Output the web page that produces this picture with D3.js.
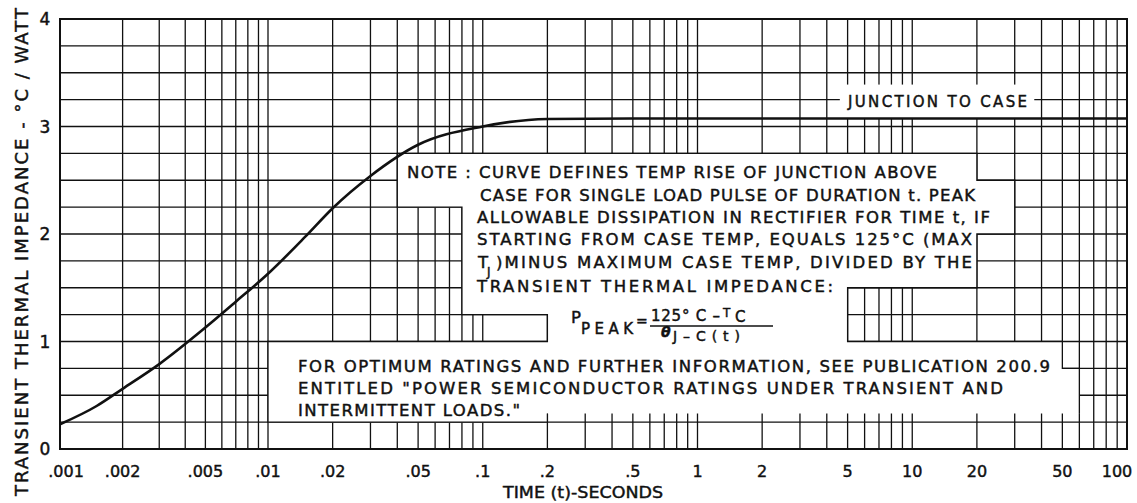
<!DOCTYPE html>
<html>
<head>
<meta charset="utf-8">
<script src="https://cdn.jsdelivr.net/npm/d3@7"></script>
<style>
  body { margin: 0; background: #fff; }
  svg { display: block; font-family: "DejaVu Sans", sans-serif; }
  text { fill: #111; stroke: #111; stroke-width: 0.45px; }
</style>
</head>
<body>
<script>
var width = 1137, height = 503;

// transient thermal impedance curve
var times = [0.001, 0.0015, 0.002, 0.003, 0.005, 0.007, 0.01, 0.015, 0.02, 0.03, 0.05, 0.1, 0.2, 0.5, 100];
var impedance = [0.23, 0.40, 0.56, 0.79, 1.13, 1.37, 1.63, 1.98, 2.24, 2.54, 2.83, 3.0, 3.07, 3.075, 3.075];

var xTicks = [0.001, 0.002, 0.005, 0.01, 0.02, 0.05, 0.1, 0.2, 0.5, 1, 2, 5, 10, 20, 50, 100];
var xTickLabels = [".001", ".002", ".005", ".01", ".02", ".05", ".1", ".2", ".5", "1", "2", "5", "10", "20", "50", "100"];
var yTicks = [0, 1, 2, 3, 4];

var noteLines = [
  "NOTE : CURVE DEFINES TEMP RISE OF JUNCTION ABOVE",
  "CASE FOR SINGLE LOAD PULSE OF DURATION t. PEAK",
  "ALLOWABLE DISSIPATION IN RECTIFIER FOR TIME t, IF",
  "STARTING FROM CASE TEMP, EQUALS  125\u00B0C (MAX",
  ")MINUS MAXIMUM CASE TEMP, DIVIDED BY THE",
  "TRANSIENT THERMAL IMPEDANCE:",
  "FOR OPTIMUM RATINGS AND FURTHER INFORMATION, SEE PUBLICATION 200.9",
  "ENTITLED \"POWER SEMICONDUCTOR RATINGS UNDER TRANSIENT AND",
  "INTERMITTENT LOADS.\""
];

var svg = d3.select("body").append("svg")
    .attr("width", width)
    .attr("height", height);

// the first decade on the sheet is a little narrower than the rest
var x = d3.scaleLog()
    .domain([0.001, 0.01, 100])
    .range([60, 268, 1127]);

var y = d3.scaleLinear()
    .domain([0, 4])
    .range([449, 19]);

// log grid: 1..9 in every decade
var gridX = [];
for (var e = -3; e < 2; e++) {
  for (var m = 1; m < 10; m++) gridX.push(m * Math.pow(10, e));
}
gridX.push(100);
var gridY = d3.range(0, 4.001, 0.25);

var grid = svg.append("g")
    .attr("stroke", "#111")
    .attr("stroke-width", 1.3);

grid.selectAll(".vx")
    .data(gridX)
  .enter().append("line")
    .attr("x1", (d) => x(d)).attr("x2", (d) => x(d))
    .attr("y1", y(0)).attr("y2", y(4));

grid.selectAll(".hy")
    .data(gridY)
  .enter().append("line")
    .attr("x1", x(0.001)).attr("x2", x(100))
    .attr("y1", (d) => y(d)).attr("y2", (d) => y(d));

// white panel behind the note, stepped along the grid (in data units)
var notePanel = [[0.2, 0.33], [0.2, 0.25], [0.01, 0.25], [0.01, 1], [0.2, 1], [0.2, 1.25],
                 [0.08, 1.25], [0.08, 2.25], [0.04, 2.25], [0.04, 2.75], [20, 2.75], [20, 2.5],
                 [30, 2.5], [30, 2], [20, 2], [20, 1.5], [5, 1.5], [5, 1], [50, 1], [50, 0.75],
                 [60, 0.75], [60, 0.33]];

var pt = (d) => [x(d[0]), y(d[1])];

svg.append("path")
    .attr("d", "M" + notePanel.map(pt).join("L") + "Z")
    .attr("fill", "#fff");

// outline, leaving the lower edge open like the sheet
svg.append("path")
    .attr("d", "M" + notePanel.map(pt).join("L"))
    .attr("fill", "none")
    .attr("stroke", "#111")
    .attr("stroke-width", 1.3);

// blank patch for the curve label
svg.append("rect")
    .attr("x", x(4.6))
    .attr("y", y(3.39))
    .attr("width", x(37) - x(4.6))
    .attr("height", y(3.07) - y(3.39))
    .attr("fill", "#fff");

// frame
svg.append("rect")
    .attr("x", x(0.001))
    .attr("y", y(4))
    .attr("width", x(100) - x(0.001))
    .attr("height", y(0) - y(4))
    .attr("fill", "none")
    .attr("stroke", "#111")
    .attr("stroke-width", 2);

// curve
var line = d3.line()
    .x((d) => x(d[0]))
    .y((d) => y(d[1]))
    .curve(d3.curveMonotoneX);

svg.append("path")
    .datum(d3.zip(times, impedance))
    .attr("d", line)
    .attr("fill", "none")
    .attr("stroke", "#111")
    .attr("stroke-width", 2.6);

// tick labels
svg.selectAll(".xt")
    .data(xTicks)
  .enter().append("text")
    .attr("x", (d, i) => x(d) + (i === 0 ? 6 : i === xTicks.length - 1 ? -10 : 0))
    .attr("y", 477)
    .attr("text-anchor", "middle")
    .style("font-size", "16px")
    .text((d, i) => xTickLabels[i]);

svg.selectAll(".yt")
    .data(yTicks)
  .enter().append("text")
    .attr("x", 45)
    .attr("y", (d) => y(d) + 6)
    .attr("text-anchor", "middle")
    .style("font-size", "17px")
    .text((d) => d);

// axis titles
svg.append("text")
    .attr("x", 583)
    .attr("y", 498)
    .attr("text-anchor", "middle")
    .attr("textLength", 160)
    .attr("lengthAdjust", "spacingAndGlyphs")
    .style("font-size", "16.5px")
    .text("TIME (t)-SECONDS");

svg.append("text")
    .attr("transform", "translate(28,252) rotate(-90)")
    .attr("text-anchor", "middle")
    .attr("textLength", 488)
    .attr("lengthAdjust", "spacing")
    .style("font-size", "18px")
    .text("TRANSIENT THERMAL IMPEDANCE - \u00B0C / WATT");

svg.append("text")
    .attr("x", 848)
    .attr("y", 107)
    .attr("textLength", 179)
    .attr("lengthAdjust", "spacing")
    .style("font-size", "15px")
    .text("JUNCTION TO CASE");

// note block
var notePlace = [
  [407, 178, 530], [480, 201, 495], [477, 223, 513], [477, 245, 495],
  [496, 268, 476], [477, 292, 356], [298, 372, 752], [298, 394, 705], [298, 416, 222]
];

var note = svg.append("g").style("font-size", "16.5px");

note.selectAll("text")
    .data(noteLines)
  .enter().append("text")
    .attr("x", (d, i) => notePlace[i][0])
    .attr("y", (d, i) => notePlace[i][1])
    .attr("textLength", (d, i) => notePlace[i][2])
    .attr("lengthAdjust", "spacing")
    .text((d) => d);

note.append("text").attr("x", 478).attr("y", 268).text("T");
note.append("text").attr("x", 487).attr("y", 276).style("font-size", "12px").text("J");

// formula
note.append("text").attr("x", 571).attr("y", 323).text("P");
note.append("text").attr("x", 581).attr("y", 334)
    .attr("textLength", 52).attr("lengthAdjust", "spacing")
    .style("font-size", "15px").text("PEAK");
note.append("text").attr("x", 636).attr("y", 326).style("font-size", "14px").text("=");
note.append("text").attr("x", 651).attr("y", 321)
    .attr("textLength", 69).attr("lengthAdjust", "spacing")
    .style("font-size", "15px").text("125\u00B0 C \u2013");
note.append("text").attr("x", 723).attr("y", 317).style("font-size", "12px").text("T");
note.append("text").attr("x", 735).attr("y", 322).style("font-size", "15px").text("C");

svg.append("line")
    .attr("x1", 650).attr("x2", 773)
    .attr("y1", 326).attr("y2", 326)
    .attr("stroke", "#111")
    .attr("stroke-width", 1.4);

note.append("text").attr("x", 661).attr("y", 337)
    .style("font-size", "14px").style("font-style", "italic").style("font-weight", "bold")
    .text("\u03B8");
note.append("text").attr("x", 673).attr("y", 341)
    .attr("textLength", 67).attr("lengthAdjust", "spacing")
    .style("font-size", "14px").text("J\u2013C(t)");
</script>
</body>
</html>
